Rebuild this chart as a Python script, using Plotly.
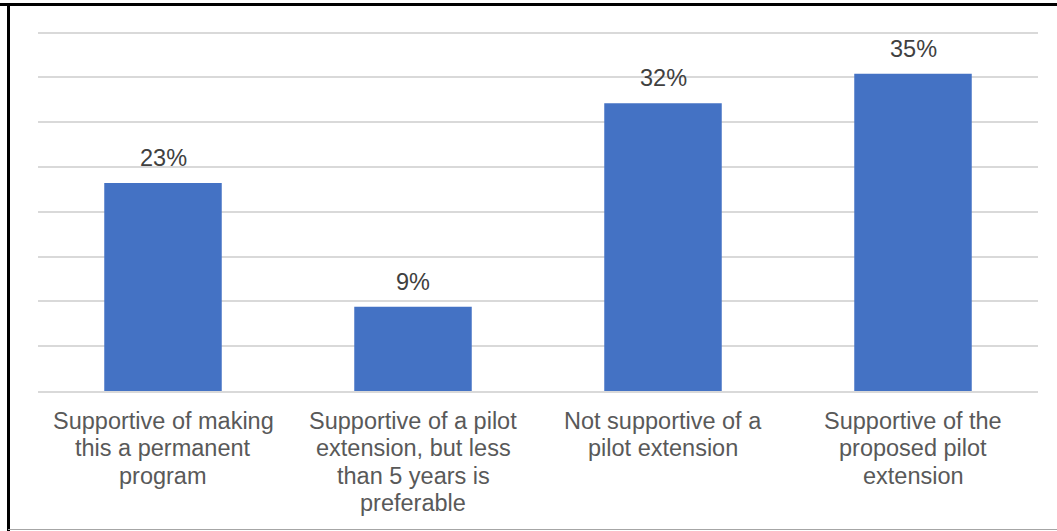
import plotly.graph_objects as go

categories = [
    "Supportive of making<br>this a permanent<br>program",
    "Supportive of a pilot<br>extension, but less<br>than 5 years is<br>preferable",
    "Not supportive of a<br>pilot extension",
    "Supportive of the<br>proposed pilot<br>extension",
]
values = [23.2, 9.4, 32.1, 35.4]
labels = [f"{round(v)}%" for v in values]

W, H = 1057, 531
Y_MAX = 40.4
ML, MR, MT, MB = 38, 19, 29, 140
PW, PH = W - ML - MR, H - MT - MB
FONT = "Liberation Sans, Arial"

fig = go.Figure()
fig.add_trace(go.Bar(
    x=categories, y=values,
    width=0.47,
    marker=dict(color="#4472C4", line=dict(width=0)),
    hoverinfo="skip",
))

# data labels
for c, v, t in zip(categories, values, labels):
    fig.add_annotation(x=c, y=v, text=t, showarrow=False, yanchor="bottom",
                       yshift=10, font=dict(family=FONT, size=23.5, color="#404040"))

# category labels, one annotation per line for tighter line spacing
for c in categories:
    for i, line in enumerate(c.split("<br>")):
        fig.add_annotation(x=c, y=0, text=line, showarrow=False, yanchor="middle",
                           yshift=-(30 + 27.3 * i),
                           font=dict(family=FONT, size=23.5, color="#595959"))

def px_x(p):
    return (p - ML) / PW

def px_y(p):
    return 1 - (p - MT) / PH

shapes = [
    dict(type="line", xref="paper", yref="paper", x0=px_x(0), x1=px_x(W), y0=px_y(4.5), y1=px_y(4.5),
         line=dict(color="black", width=3)),
    dict(type="line", xref="paper", yref="paper", x0=px_x(8.5), x1=px_x(8.5), y0=px_y(3), y1=px_y(H),
         line=dict(color="black", width=3)),
    dict(type="line", xref="paper", yref="paper", x0=px_x(8), x1=px_x(W), y0=px_y(529.5), y1=px_y(529.5),
         line=dict(color="#a6a6a6", width=1)),
]

fig.update_layout(
    width=W, height=H,
    margin=dict(l=ML, r=MR, t=MT, b=MB, pad=0),
    paper_bgcolor="white", plot_bgcolor="white",
    showlegend=False,
    bargap=0.53,
    shapes=shapes,
    font=dict(family=FONT, size=22, color="#595959"),
)
fig.update_xaxes(
    showgrid=False, showline=True, linecolor="#d9d9d9", linewidth=1.5,
    ticks="", showticklabels=False,
)
fig.update_yaxes(
    range=[0, Y_MAX], dtick=5, showgrid=True, gridcolor="#d9d9d9", gridwidth=1.5,
    showticklabels=False, zeroline=False, showline=False,
)

fig.write_html("out.html", config={"displayModeBar": False},
               post_script="document.body.style.margin='0';document.body.style.overflow='hidden';")
